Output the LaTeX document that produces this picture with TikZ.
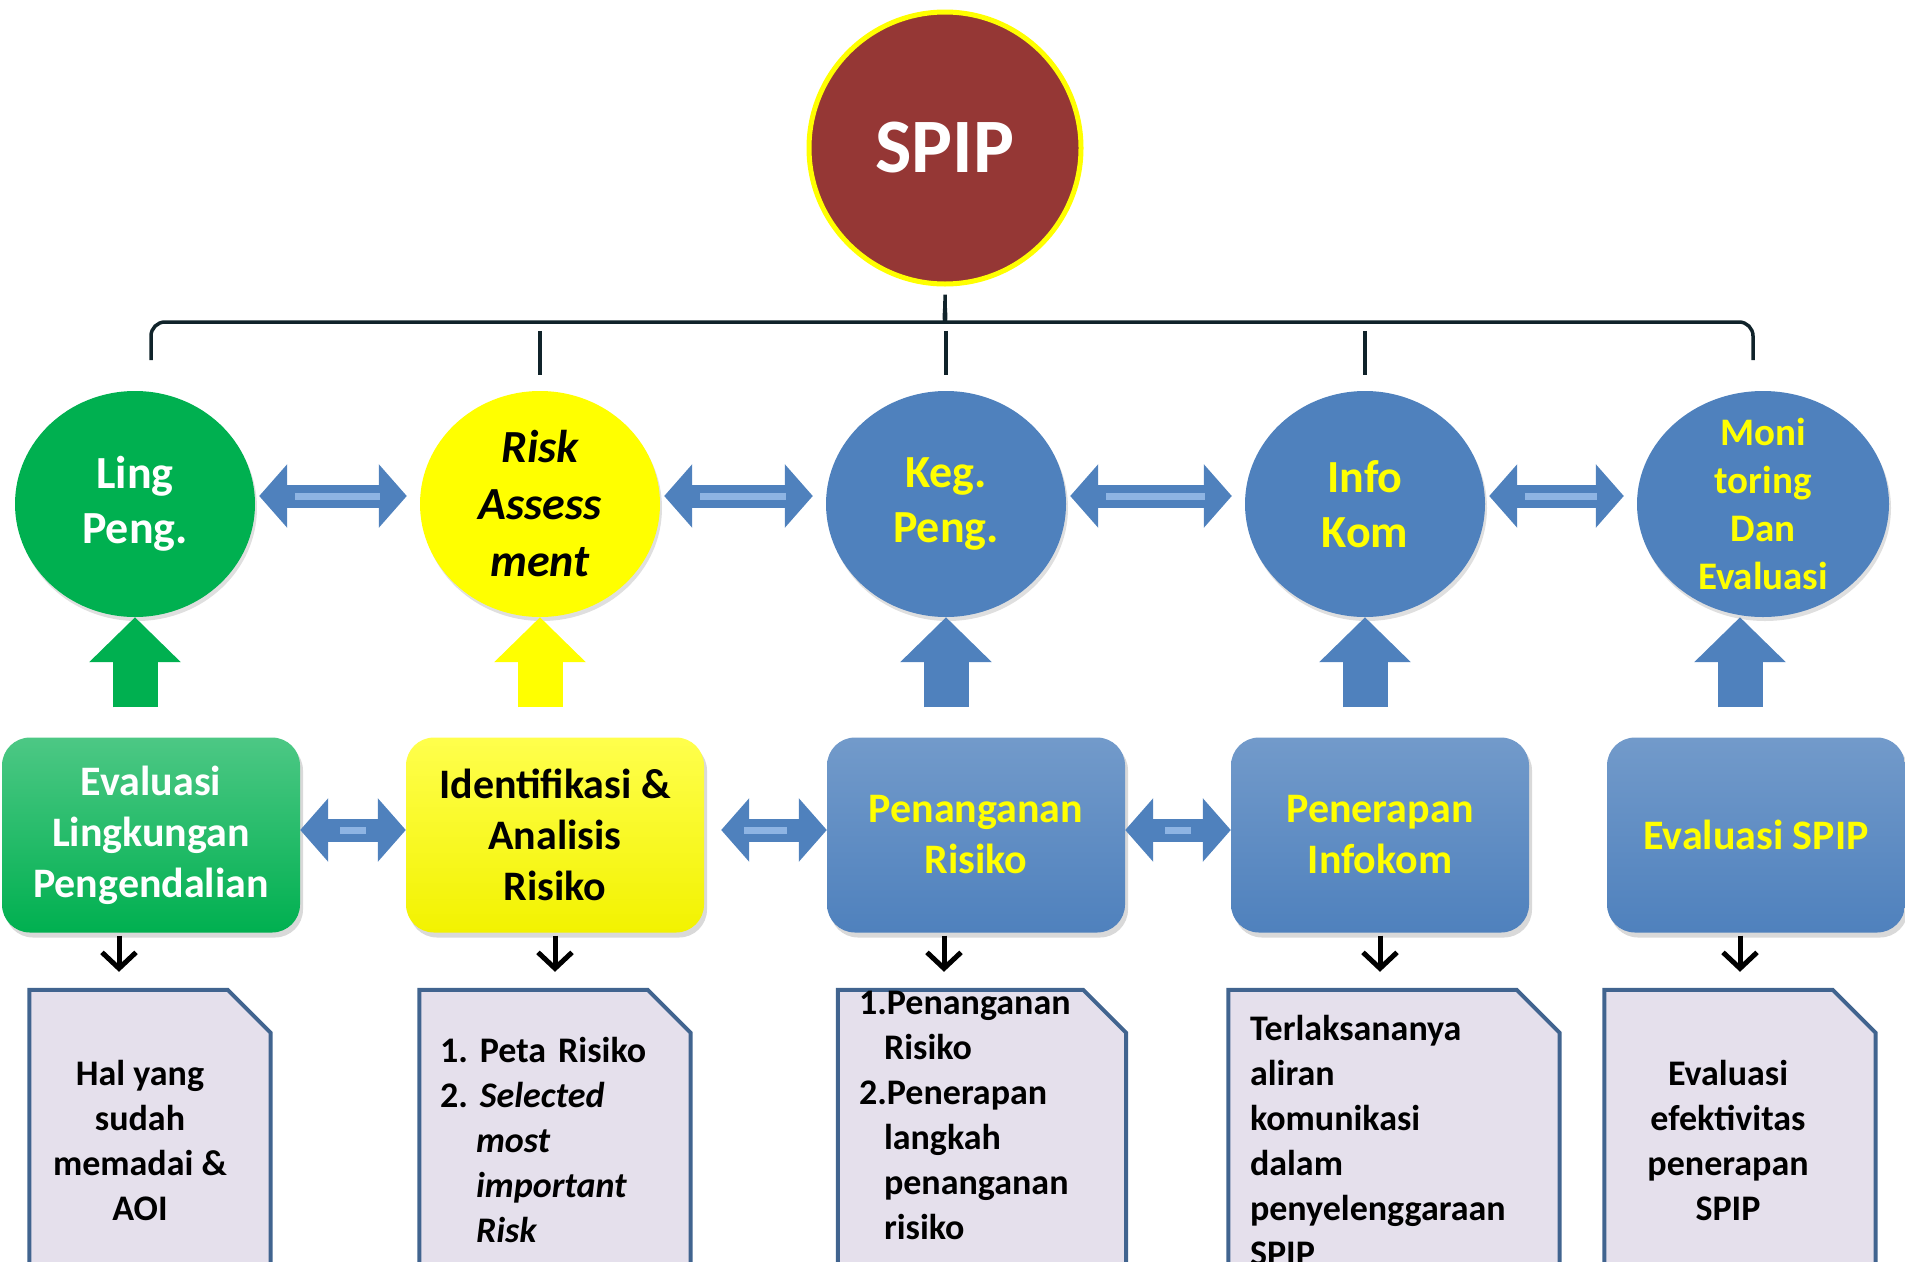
\documentclass[tikz,border=0pt]{standalone}
\usepackage{fontspec}
\setmainfont{Carlito}
\usetikzlibrary{arrows.meta, positioning, shapes.geometric, shadows}
\definecolor{spipred}{HTML}{953735}
\definecolor{grn}{HTML}{00B050}
\definecolor{yel}{HTML}{FFFF00}
\definecolor{blu}{HTML}{4F81BD}
\definecolor{arrlt}{HTML}{8EB4E3}
\definecolor{docfill}{HTML}{E5E0EC}
\definecolor{docline}{HTML}{41648F}
\definecolor{brkline}{HTML}{10232A}

\begin{document}
\begin{tikzpicture}[
x=1pt, y=-1pt,
ball/.style={ellipse, minimum width=240pt, minimum height=226pt, inner sep=0pt,
  drop shadow={opacity=0.25, shadow xshift=2pt, shadow yshift=-4pt}},
btxt/.style={align=center, font=\fontsize{46}{55}\selectfont\bfseries},
box/.style={rectangle, rounded corners=28pt, minimum width=298pt, minimum height=195pt,
  align=center, font=\fontsize{42}{51}\selectfont\bfseries,
  drop shadow={opacity=0.3, shadow xshift=3pt, shadow yshift=-5pt}},
docbox/.style={rectangle, minimum height=300pt, inner sep=0pt},
docbody/.style={fill=docfill, draw=docline, line width=4pt},
dtxt/.style={font=\fontsize{36}{45}\selectfont\bfseries\frenchspacing},
brk/.style={draw=brkline, line width=3.5pt},
dblarr/.style={draw=blu, line width=23pt,
  {Triangle[length=28pt,width=62pt]}-{Triangle[length=28pt,width=62pt]},
  postaction={draw=arrlt, line width=7pt, -, shorten <=40pt, shorten >=40pt}},
uparr/.style={line width=45pt, -{Triangle[length=45pt,width=89pt]}, shorten <=30pt},
downarr/.style={line width=5pt, -{Straight Barb[length=16pt,width=34pt]},
  shorten <=3pt, shorten >=18pt},
]
\clip (0,0) rectangle (1905,1261);

% top
\node[circle, minimum size=272pt, fill=spipred, draw=yel, line width=5pt, text=white,
  font=\fontsize{77}{80}\selectfont\bfseries] (spip) at (945,148) {SPIP};

% components
\node[ball, fill=grn, label={[btxt, text=white]center:Ling\\Peng.}] (ling) at (135,504) {};
\node[ball, fill=yel, label={[btxt, font=\fontsize{46}{57}\selectfont\bfseries\itshape]center:Risk\\Assess\\ment}] (rsk) at (540,504) {};
\node[ball, fill=blu, label={[btxt, text=yel]center:Keg.\\Peng.}] (keg) at (946,504) {};
\node[ball, fill=blu, label={[btxt, text=yel]center:Info\\Kom}] (inf) at (1365,504) {};
\node[ball, fill=blu, minimum width=252pt, label={[btxt, text=yel, font=\fontsize{39}{48}\selectfont\bfseries]center:Moni\\toring\\Dan\\Evaluasi}] (mon) at (1763,504) {};

% activities
\node[box, top color=grn!70!white, middle color=grn, bottom color=grn, text=white] (b1) at (151,835) {Evaluasi\\Lingkungan\\Pengendalian};
\node[box, top color=yel!70!white, middle color=yel, bottom color=yel!95!black] (b2) at (555,835) {Identifikasi \&\\Analisis\\Risiko};
\node[box, top color=blu!80!white, middle color=blu, bottom color=blu, text=yel] (b3) at (976,835) {Penanganan\\Risiko};
\node[box, top color=blu!80!white, middle color=blu, bottom color=blu, text=yel] (b4) at (1380,835) {Penerapan\\Infokom};
\node[box, top color=blu!80!white, middle color=blu, bottom color=blu, text=yel] (b5) at (1756,835) {Evaluasi SPIP};

% outputs
\node[docbox, minimum width=241pt] (d1) at (150,1140) {};
\node[docbox, minimum width=271pt] (d2) at (555,1140) {};
\node[docbox, minimum width=288pt] (d3) at (982,1140) {};
\node[docbox, minimum width=331pt] (d4) at (1394,1140) {};
\node[docbox, minimum width=271pt] (d5) at (1740,1140) {};
\foreach \d in {d1,d2,d3,d4,d5}
  \draw[docbody] (\d.south west) -- (\d.north west) -- ([xshift=-43pt]\d.north east)
    -- ([yshift=-43pt]\d.north east) -- (\d.south east) -- cycle;

\node[dtxt, align=center, xshift=-10pt] (t1) at (d1) {Hal yang\\sudah\\memadai \&\\AOI};
\node[dtxt, align=left, text width=230pt] (t2) at (d2) {1. Peta Risiko\\2. \textit{Selected}\\\hspace*{36pt}\textit{most}\\\hspace*{36pt}\textit{important}\\\hspace*{36pt}\textit{Risk}};
\node[dtxt, align=left, text width=246pt, yshift=25pt] (t3) at (d3) {1.Penanganan\\\hspace*{25pt}Risiko\\2.Penerapan\\\hspace*{25pt}langkah\\\hspace*{25pt}penanganan\\\hspace*{25pt}risiko};
\node[dtxt, align=left, text width=288pt] (t4) at (d4) {Terlaksananya\\aliran\\komunikasi\\dalam\\penyelenggaraan\\SPIP};
\node[dtxt, align=center, xshift=-12pt] (t5) at (d5) {Evaluasi\\efektivitas\\penerapan\\SPIP};

% bracket
\draw[brk, rounded corners=14pt] (151,360) -- (151,322) -- (932,322)
  .. controls (943,322) and (945,312) .. (spip.south)
  .. controls (945,312) and (947,322) .. (958,322) -- (1753,322) -- (1753,360);
\foreach \n in {rsk,keg,inf}
  \draw[brk] (\n.north) ++(0,-60) -- ++(0,44);

% arrows
\draw[dblarr, shorten <=4pt, shorten >=13pt] ([yshift=8pt]ling.east) -- ([yshift=8pt]rsk.west);
\draw[dblarr, shorten <=4pt, shorten >=13pt] ([yshift=8pt]rsk.east) -- ([yshift=8pt]keg.west);
\draw[dblarr, shorten <=4pt, shorten >=13pt] ([yshift=8pt]keg.east) -- ([yshift=8pt]inf.west);
\draw[dblarr, shorten <=4pt, shorten >=13pt] ([yshift=8pt]inf.east) -- ([yshift=8pt]mon.west);
\draw[dblarr] ([yshift=5pt]b1.east) -- ([yshift=5pt]b2.west);
\draw[dblarr, shorten <=17pt] ([yshift=5pt]b2.east) -- ([yshift=5pt]b3.west);
\draw[dblarr] ([yshift=5pt]b3.east) -- ([yshift=5pt]b4.west);

\draw[uparr, grn] (ling.south |- b1.north) -- (ling.south);
\draw[uparr, yel] (rsk.south |- b2.north) -- (rsk.south);
\draw[uparr, blu] (keg.south |- b3.north) -- (keg.south);
\draw[uparr, blu] (inf.south |- b4.north) -- (inf.south);
\draw[uparr, blu] ([xshift=-23pt]mon.south |- b5.north) -- ([xshift=-23pt]mon.south);

\draw[downarr] ([xshift=-32pt]b1.south) -- ([xshift=-32pt]b1.south |- d1.north);
\draw[downarr] (b2.south) -- (b2.south |- d2.north);
\draw[downarr] ([xshift=-32pt]b3.south) -- ([xshift=-32pt]b3.south |- d3.north);
\draw[downarr] (b4.south) -- (b4.south |- d4.north);
\draw[downarr] ([xshift=-16pt]b5.south) -- ([xshift=-16pt]b5.south |- d5.north);
\end{tikzpicture}
\end{document}
